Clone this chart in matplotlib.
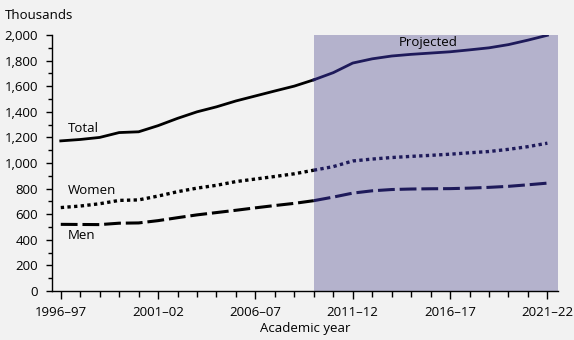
import numpy as np
import matplotlib.pyplot as plt
from matplotlib.ticker import MultipleLocator, FuncFormatter

years = ['1996–97', '1997–98', '1998–99', '1999–2000', '2000–01', '2001–02',
         '2002–03', '2003–04', '2004–05', '2005–06', '2006–07', '2007–08',
         '2008–09', '2009–10', '2010–11', '2011–12', '2012–13', '2013–14',
         '2014–15', '2015–16', '2016–17', '2017–18', '2018–19', '2019–20',
         '2020–21', '2021–22']
# thousands of degrees
total = [1173, 1184, 1200, 1238, 1244, 1292, 1349, 1400, 1439, 1485, 1524, 1563,
         1601, 1650, 1706, 1781, 1814, 1836, 1849, 1859, 1869, 1884, 1900, 1925,
         1960, 1998]
women = [652, 664, 682, 708, 712, 742, 776, 804, 826, 855, 875, 895,
         916, 944, 972, 1016, 1031, 1043, 1052, 1060, 1069, 1080, 1090, 1107,
         1128, 1155]
men = [521, 520, 519, 530, 532, 550, 573, 595, 613, 631, 650, 668,
       685, 706, 734, 765, 783, 793, 797, 799, 800, 804, 810, 818,
       830, 843]
proj_start = 13  # first projected year (2009–10)
tick_labels = ['1996–97', '2001–02', '2006–07', '2011–12', '2016–17', '2021–22']

plt.rcParams['font.family'] = ['Open Sans', 'DejaVu Sans']
bg = '#f2f2f2'
navy = '#1e1a5a'

fig = plt.figure(figsize=(5.74, 3.40), dpi=100, facecolor=bg)
ax = fig.add_axes([0.0906, 0.144, 0.881, 0.753], facecolor=bg)

x = np.arange(len(years))
xmax = len(years) - 0.47
ax.axvspan(proj_start, xmax, ymin=0, ymax=1, color='#b4b2cc', zorder=0, lw=0)

p = proj_start
ax.plot(x[:p + 1], total[:p + 1], color='black', lw=2)
ax.plot(x[p:], total[p:], color=navy, lw=2)
ax.plot(x[:p + 1], women[:p + 1], color='black', lw=2.4, ls=(0, (1.0, 1.0)))
ax.plot(x[p:], women[p:], color=navy, lw=2.4, ls=(0, (1.0, 1.0)))
ax.plot(x[:p + 1], men[:p + 1], color='black', lw=2.2, ls=(0, (5.5, 1.6)))
ax.plot(x[p:], men[p:], color=navy, lw=2.2, ls=(0, (5.5, 1.6)))

ax.set_xlim(-0.45, xmax)
ax.set_ylim(0, 2000)
ax.set_xticks(x[::5])
ax.set_xticklabels(tick_labels)
ax.xaxis.set_minor_locator(MultipleLocator(1))
ax.yaxis.set_major_locator(MultipleLocator(200))
ax.yaxis.set_minor_locator(MultipleLocator(100))
ax.yaxis.set_major_formatter(FuncFormatter(lambda v, _: f'{int(v):,}'))
ax.tick_params(axis='both', which='major', labelsize=9.5, width=1, direction='out')
ax.tick_params(axis='x', which='major', length=6, pad=5)
ax.tick_params(axis='x', which='minor', length=4, width=1)
ax.tick_params(axis='y', which='minor', length=3, width=1)
ax.tick_params(axis='y', which='major', length=4, pad=6)
for s in ['top', 'right']:
    ax.spines[s].set_visible(False)
for s in ['left', 'bottom']:
    ax.spines[s].set_linewidth(1)

ax.set_xlabel('Academic year', fontsize=9.5, labelpad=2)
fig.text(0.009, 0.955, 'Thousands', fontsize=9.5, va='center', ha='left')

ax.text(0.35, 1270, 'Total', fontsize=9.5, va='center')
ax.text(0.35, 785, 'Women', fontsize=9.5, va='center')
ax.text(0.35, 430, 'Men', fontsize=9.5, va='center')
ax.text(18.9, 1940, 'Projected', fontsize=9.5, va='center', ha='center')

fig.savefig('out.png', dpi=100, facecolor=bg)
